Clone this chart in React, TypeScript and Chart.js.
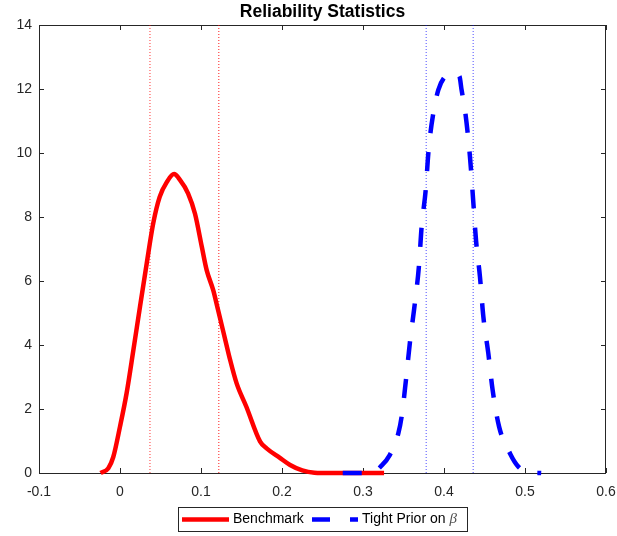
import React, { useEffect, useRef } from "react";
import { Chart, registerables } from "chart.js";

Chart.register(...registerables);

const TITLE = "Reliability Statistics";
const X_MIN = -0.1;
const X_MAX = 0.6;
const Y_MIN = 0;
const Y_MAX = 14;

const benchmarkX = [-0.024, -0.0144, -0.0083, 0, 0.0082, 0.0165, 0.0247, 0.033, 0.041, 0.049, 0.058, 0.0667, 0.074, 0.084, 0.0926, 0.101, 0.107, 0.115, 0.121, 0.128, 0.136, 0.144, 0.156, 0.173, 0.181, 0.197, 0.21, 0.225, 0.24, 0.26, 0.326];
const benchmarkY = [0, 0.15, 0.5, 1.45, 2.5, 3.84, 5.2, 6.55, 7.8, 8.63, 9.1, 9.34, 9.16, 8.74, 8.1, 7.07, 6.34, 5.72, 5.1, 4.37, 3.53, 2.8, 2.07, 0.98, 0.77, 0.48, 0.25, 0.08, 0.01, 0, 0];

const tightX = [0.275, 0.305, 0.315, 0.321, 0.333, 0.3436, 0.3477, 0.353, 0.358, 0.364, 0.369, 0.3724, 0.3774, 0.381, 0.3868, 0.393, 0.401, 0.4115, 0.419, 0.4217, 0.4259, 0.432, 0.436, 0.4395, 0.4444, 0.4486, 0.4547, 0.46, 0.468, 0.4815, 0.4917, 0.504, 0.52];
const tightY = [0, 0, 0.05, 0.18, 0.56, 1.24, 1.76, 2.9, 4.1, 5.3, 6.45, 7.7, 8.84, 10.1, 11.24, 11.97, 12.38, 12.5, 12.4, 11.97, 11.34, 9.9, 8.53, 7.28, 6.13, 4.88, 3.74, 2.6, 1.45, 0.61, 0.2, 0.03, 0];

const benchmarkBands = [0.037, 0.122];
const tightBands = [0.378, 0.436];

const legendLabels = ["Benchmark", "Tight Prior on "];

const RED = "#FF0000";
const BLUE = "#0000FF";
const AXIS = "#262626";
const FONT = "'Liberation Sans', Arial, Helvetica, sans-serif";
const DASH = [18, 20];

const toPts = (xs: number[], ys: number[]) => xs.map((x, i) => ({ x, y: ys[i] }));

const framePlugin = {
  id: "frame",
  beforeDatasetsDraw(chart: any) {
    const { ctx, chartArea: a, scales } = chart;
    ctx.save();
    ctx.strokeStyle = AXIS;
    ctx.lineWidth = 1;
    ctx.strokeRect(a.left + 0.5, a.top + 0.5, a.right - a.left - 1, a.bottom - a.top);
    const tl = 5;
    ctx.beginPath();
    scales.x.ticks.forEach((t: any) => {
      const px = Math.round(scales.x.getPixelForValue(t.value)) + 0.5;
      ctx.moveTo(px, a.bottom);
      ctx.lineTo(px, a.bottom - tl);
      ctx.moveTo(px, a.top);
      ctx.lineTo(px, a.top + tl);
    });
    scales.y.ticks.forEach((t: any) => {
      const py = Math.round(scales.y.getPixelForValue(t.value)) + 0.5;
      ctx.moveTo(a.left, py);
      ctx.lineTo(a.left + tl, py);
      ctx.moveTo(a.right, py);
      ctx.lineTo(a.right - tl, py);
    });
    ctx.stroke();
    ctx.restore();
  },
  afterDraw(chart: any) {
    const { ctx, chartArea: a } = chart;
    ctx.save();
    ctx.fillStyle = "#000000";
    ctx.font = `bold 17.5px ${FONT}`;
    ctx.textAlign = "center";
    ctx.textBaseline = "middle";
    ctx.fillText(TITLE, (a.left + a.right) / 2, 12);

    const bx = 178, by = 507, bw = 289, bh = 24;
    ctx.fillStyle = "#ffffff";
    ctx.fillRect(bx, by, bw, bh);
    ctx.strokeStyle = AXIS;
    ctx.lineWidth = 1;
    ctx.strokeRect(bx + 0.5, by + 0.5, bw, bh);
    const my = by + bh / 2 + 0.5;
    ctx.lineWidth = 4.5;
    ctx.strokeStyle = RED;
    ctx.beginPath();
    ctx.moveTo(182, my);
    ctx.lineTo(229, my);
    ctx.stroke();
    ctx.strokeStyle = BLUE;
    ctx.setLineDash(DASH);
    ctx.beginPath();
    ctx.moveTo(312, my);
    ctx.lineTo(358, my);
    ctx.stroke();
    ctx.setLineDash([]);
    ctx.fillStyle = "#000000";
    ctx.font = `14px ${FONT}`;
    ctx.textAlign = "left";
    ctx.textBaseline = "middle";
    ctx.fillText(legendLabels[0], 233, my);
    ctx.fillText(legendLabels[1], 362, my);
    const w = ctx.measureText(legendLabels[1]).width;
    ctx.font = `italic 15px 'Liberation Serif', 'DejaVu Serif', serif`;
    ctx.fillStyle = "#505050";
    ctx.fillText("β", 362 + w, my);
    ctx.restore();
  },
};

export default function App() {
  const ref = useRef<HTMLCanvasElement | null>(null);
  useEffect(() => {
    if (!ref.current) return;
    const vline = (x: number, color: string) => ({
      data: [{ x, y: Y_MIN }, { x, y: Y_MAX }],
      borderColor: color,
      borderWidth: 1,
      borderDash: [1, 2],
      pointRadius: 0,
      order: 5,
    });
    const chart = new Chart(ref.current, {
      type: "line",
      data: {
        datasets: [
          {
            label: "Tight Prior on β",
            data: toPts(tightX, tightY),
            borderColor: BLUE,
            borderWidth: 4.5,
            borderDash: [19, 19],
            pointRadius: 0,
            cubicInterpolationMode: "monotone",
            clip: false,
            order: 1,
          } as any,
          {
            label: "Benchmark",
            data: toPts(benchmarkX, benchmarkY),
            borderColor: RED,
            borderWidth: 4.5,
            pointRadius: 0,
            cubicInterpolationMode: "monotone",
            clip: false,
            order: 2,
          } as any,
          vline(benchmarkBands[0], "rgba(255,0,0,0.8)"),
          vline(benchmarkBands[1], "rgba(255,0,0,0.9)"),
          vline(tightBands[0], "rgba(0,0,255,0.7)"),
          vline(tightBands[1], "rgba(0,0,255,0.7)"),
        ],
      },
      options: {
        responsive: false,
        animation: false,
        events: [],
        layout: { padding: { top: 25, right: 11, left: 0, bottom: 0 } },
        plugins: { legend: { display: false }, title: { display: false }, tooltip: { enabled: false } },
        scales: {
          x: {
            type: "linear",
            min: X_MIN,
            max: X_MAX,
            grid: { display: false, drawTicks: false },
            border: { display: false },
            ticks: {
              stepSize: 0.1,
              padding: 11,
              color: AXIS,
              font: { family: FONT, size: 14 },
              maxRotation: 0,
              callback: (v: any) => String(Number(Number(v).toFixed(1))),
            },
            afterFit: (s: any) => { s.height = 63; s.paddingLeft = 0; s.paddingRight = 0; },
          },
          y: {
            type: "linear",
            min: Y_MIN,
            max: Y_MAX,
            grid: { display: false, drawTicks: false },
            border: { display: false },
            ticks: {
              stepSize: 2,
              padding: 7,
              color: AXIS,
              font: { family: FONT, size: 14 },
            },
            afterFit: (s: any) => { s.width = 39; s.paddingTop = 0; s.paddingBottom = 0; },
          },
        },
      } as any,
      plugins: [framePlugin],
    });
    return () => chart.destroy();
  }, []);
  return (
    <div style={{ position: "fixed", left: 0, top: 0, width: 617, height: 536, background: "#fff" }}>
      <canvas ref={ref} width={617} height={536} style={{ display: "block" }} />
    </div>
  );
}
